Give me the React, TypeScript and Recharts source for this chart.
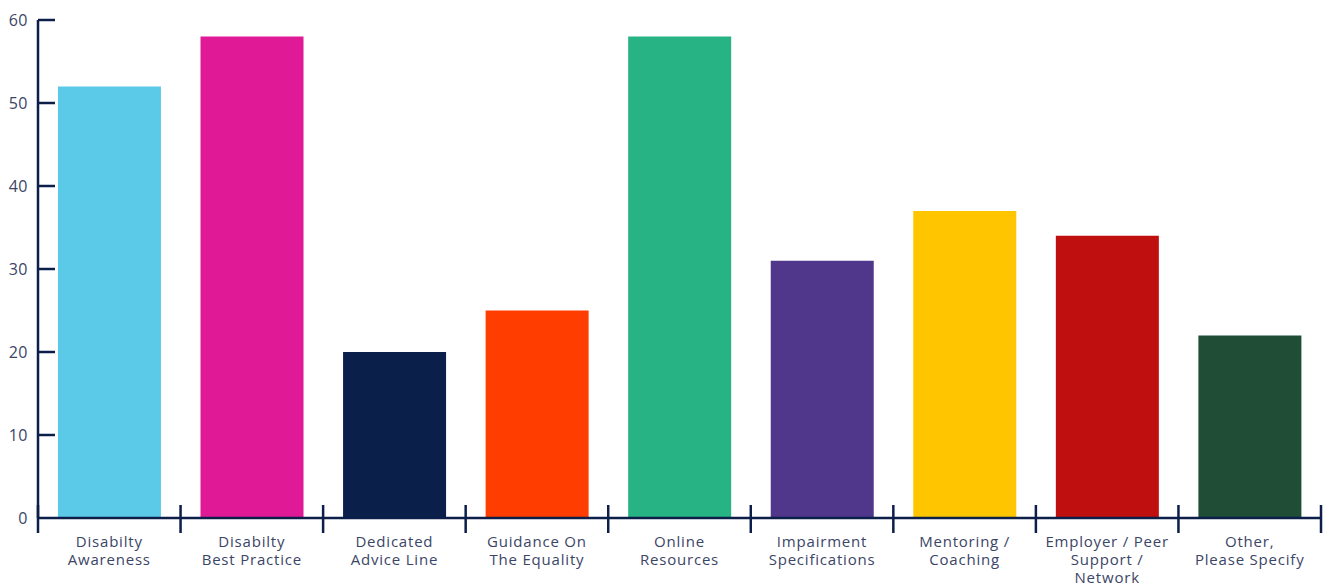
import { BarChart, Bar, Cell, XAxis, YAxis } from "recharts";

const categories = [
  "Disabilty\nAwareness",
  "Disabilty\nBest Practice",
  "Dedicated\nAdvice Line",
  "Guidance On\nThe Equality",
  "Online\nResources",
  "Impairment\nSpecifications",
  "Mentoring /\nCoaching",
  "Employer / Peer\nSupport /\nNetwork",
  "Other,\nPlease Specify",
];
const responses = [52, 58, 20, 25, 58, 31, 37, 34, 22];
const barColors = ["#5bcae8", "#e01a96", "#0a1f4a", "#ff3d00", "#27b383", "#50378c", "#ffc600", "#bf0f0f", "#1f4d36"];
const yTicks = [0, 10, 20, 30, 40, 50, 60];

const data = categories.map((name, i) => ({ name, value: responses[i] }));

const AXIS = "#0b1f4a";
const TEXT = "#3b4566";

const XTick = (props: any) => {
  const { x, y, payload, index, visibleTicksCount } = props;
  const half = payload.offset ?? 0;
  const lines = String(payload.value).split("\n");
  return (
    <g>
      <line x1={x - half} x2={x - half} y1={y - 13} y2={y + 15} stroke={AXIS} strokeWidth={2.5} />
      {index === visibleTicksCount - 1 && (
        <line x1={x + half} x2={x + half} y1={y - 13} y2={y + 15} stroke={AXIS} strokeWidth={2.5} />
      )}
      <text x={x} y={y + 23} textAnchor="middle" dominantBaseline="central" fill={TEXT} fontSize={15} letterSpacing={0.8}>
        {lines.map((l, i) => (
          <tspan key={i} x={x} dy={i === 0 ? 0 : 18}>
            {l}
          </tspan>
        ))}
      </text>
    </g>
  );
};

const YTick = (props: any) => {
  const { x, y, payload } = props;
  return (
    <g>
      {payload.value !== 0 && <line x1={x} x2={x + 17} y1={y} y2={y} stroke={AXIS} strokeWidth={2.5} />}
      <text x={x - 10} y={y} textAnchor="end" dominantBaseline="central" fill={TEXT} fontSize={16} letterSpacing={0.5}>
        {payload.value}
      </text>
    </g>
  );
};

export default function App() {
  return (
    <div style={{ position: "fixed", left: 0, top: 0, background: "#fff", fontFamily: "'Open Sans', sans-serif" }}>
      <BarChart width={1330} height={584} data={data} margin={{ top: 20, right: 9, left: 0, bottom: 0 }} barCategoryGap="14%">
        <XAxis
          dataKey="name"
          height={66}
          interval={0}
          tickLine={false}
          tickSize={0}
          tickMargin={0}
          axisLine={{ stroke: AXIS, strokeWidth: 2.5 }}
          tick={<XTick />}
        />
        <YAxis
          width={38}
          domain={[0, 60]}
          ticks={yTicks}
          tickLine={false}
          tickSize={0}
          tickMargin={0}
          axisLine={{ stroke: AXIS, strokeWidth: 2.5 }}
          tick={<YTick />}
        />
        <Bar dataKey="value" isAnimationActive={false}>
          {data.map((d, i) => (
            <Cell key={d.name} fill={barColors[i]} />
          ))}
        </Bar>
      </BarChart>
    </div>
  );
}
